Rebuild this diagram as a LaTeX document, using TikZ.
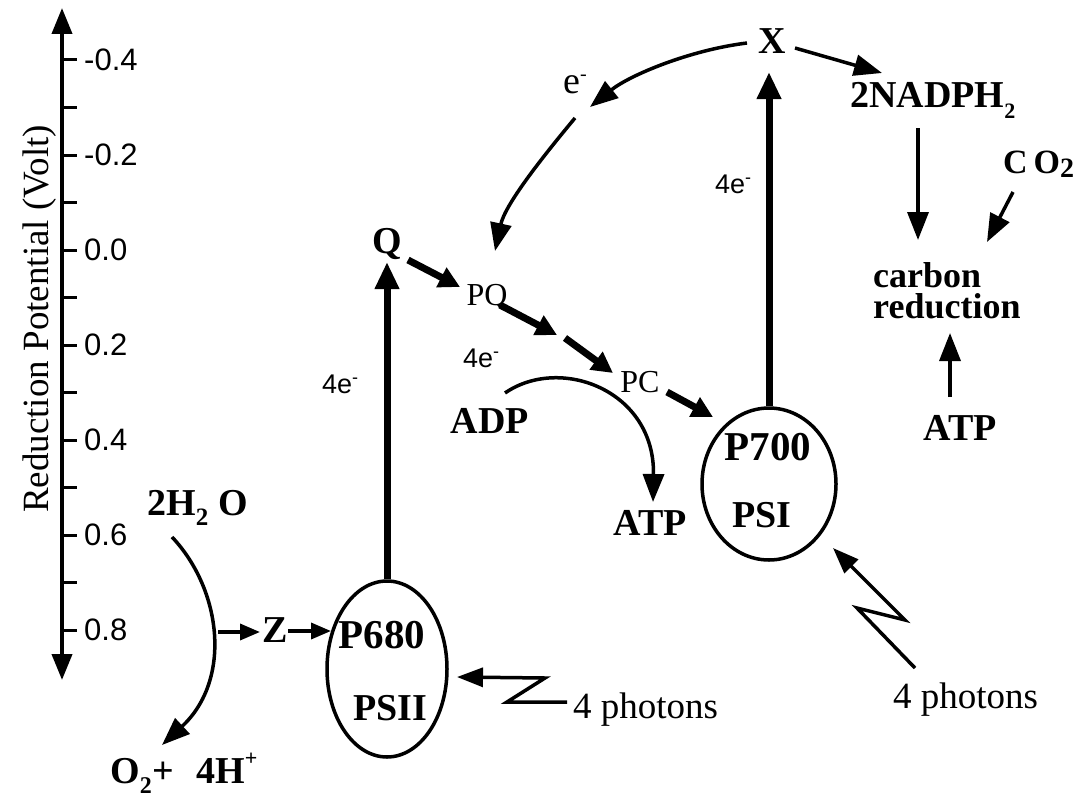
\documentclass[tikz,border=0pt]{standalone}
\usepackage{fontspec}
\setmainfont{Liberation Serif}
\newfontfamily\sansfam{Liberation Sans}
\usetikzlibrary{arrows.meta,shapes.geometric}

% lowered / raised small indices: #1 shift (pt), #2 size (pt), #3 text
\newcommand{\lowsub}[3]{\raisebox{-#1pt}{\fontsize{#2}{#2}\selectfont #3}}
\newcommand{\highsup}[3]{\raisebox{#1pt}{\fontsize{#2}{#2}\selectfont #3}}

\tikzset{
  bold/.style={font=\bfseries\fontsize{38}{40}\selectfont, inner sep=0pt, anchor=base},
  wide/.style={font=\bfseries\fontsize{41}{43}\selectfont},
  plain/.style={font=\fontsize{32}{34}\selectfont, inner sep=0pt, anchor=base},
  volt/.style={font=\sansfam\fontsize{31}{32}\selectfont, inner sep=0pt, anchor=west},
  elec/.style={font=\sansfam\fontsize{27}{28}\selectfont, inner sep=0pt, anchor=base west},
  photo/.style={font=\fontsize{37}{39}\selectfont, inner sep=0pt, anchor=base west},
  system/.style={ellipse, draw, line width=3.5pt, inner sep=0pt},
  flow/.style={line width=3.5pt, -{Triangle[length=28pt,width=21pt]}},
  trunk/.style={line width=7pt, -{Triangle[length=27pt,width=23pt]}},
  chain/.style={line width=7pt, -{Triangle[length=21pt,width=21pt]}},
  small/.style={line width=3.5pt, -{Triangle[length=20pt,width=16pt]}},
  light/.style={line width=3.5pt, -{Triangle[length=26pt,width=19pt]}},
}

\begin{document}
\begin{tikzpicture}[x=1pt,y=-1pt]
\useasboundingbox (0,0) rectangle (1081,800);

% reduction potential axis
\coordinate (axtop) at (62,8);
\coordinate (axbot) at (62,680);
\draw[line width=4pt, {Triangle[length=26pt,width=20pt]}-{Triangle[length=26pt,width=20pt]}] (axbot) -- (axtop);
\foreach \k in {0,...,12} \draw[line width=3pt] (62,{60+47.5*\k}) -- ++(15,0);
\foreach \v/\k in {-0.4/0,-0.2/2,0.0/4,0.2/6,0.4/8,0.6/10,0.8/12}
  \node[volt] (tick\k) at (84,{60+47.5*\k}) {\v};
\node[font=\fontsize{37}{39}\selectfont, rotate=90, inner sep=0pt] (axislabel) at (40,319) {Reduction Potential (Volt)};

% carriers and products
\node[bold] (X) at (772,53) {X};
\node[bold, anchor=base west] (nadph) at (850,107) {2NADPH\lowsub{11}{22}{2}};
\node[bold, font=\bfseries\fontsize{34}{36}\selectfont, anchor=base west] (co2) at (1003,173) {C\hspace{6pt}O\lowsub{4}{28}{2}};
% base of a two-line node is the baseline of its last line
\node[bold, font=\bfseries\fontsize{36}{31}\selectfont, align=left, anchor=base west] (carbon) at (873,318) {carbon\\reduction};
\node[bold] (atpR) at (960,440) {ATP};
\node[bold] (Q) at (387,253) {Q};
\node[plain] (PQ) at (487,305) {PQ};
\node[plain] (PC) at (640,392) {PC};
\node[bold] (ADP) at (490,433) {ADP};
\node[bold] (atpM) at (650,535) {ATP};

% photosystems
\node[system, minimum width=134pt, minimum height=152pt] (psi) at (769,484) {};
\node[bold, wide] (p700) at (768,460) {P700};
\node[bold] (psitext) at (762,527) {PSI};
\node[system, minimum width=120pt, minimum height=176pt] (psii) at (387,669) {};
\node[bold, wide] (p680) at (382,648) {P680};
\node[bold] (psiitext) at (390,720) {PSII};

\node[bold] (Z) at (275,642) {Z};
\node[bold, anchor=base west] (h2o) at (147,515) {2H\lowsub{10}{25}{2}\hspace{10pt}O};
\node[bold, anchor=base west] (o2) at (110,783) {O\lowsub{10}{24}{2}\hspace{1pt}+\hspace{22pt}4H\highsup{18}{22}{+}};
\node[photo] (photII) at (573,718) {4 photons};
\node[photo] (photI) at (893,708) {4 photons};

% electron labels
\node[font=\fontsize{38}{40}\selectfont, inner sep=0pt, anchor=base west] (elab) at (563,93) {e\highsup{13}{20}{-}};
\node[elec] (e4a) at (322,393) {4e\highsup{10}{18}{-}};
\node[elec] (e4b) at (463,367) {4e\highsup{10}{18}{-}};
\node[elec] (e4c) at (715,193) {4e\highsup{10}{18}{-}};

% electron transport
\draw[trunk] (psii.north) -- ([shift={(0,9)}]Q.base);
\draw[trunk] (psi.north) -- ([shift={(-3,19)}]X.base);
\draw[flow] ([shift={(23,-5)}]X.base) -- ([shift={(32,-34)}]nadph.base west);
\draw[flow] ([shift={(-25,-10)}]X.base) .. controls +(-57,7) and +(40,-32) .. ([shift={(27,14)}]elab.base west);
\draw[flow] ([shift={(12,25)}]elab.base west) .. controls +(-35,42) and +(10,-46) .. ([shift={(8,-54)}]PQ.base);
\draw[chain] ([shift={(21,7)}]Q.base) -- ([shift={(-27,-18)}]PQ.base);
\draw[chain] ([shift={(13,0)}]PQ.base) -- ([shift={(70,30)}]PQ.base);
\draw[chain] ([shift={(-75,-54)}]PC.base) -- ([shift={(-27,-19)}]PC.base);
\draw[chain] ([shift={(27,0)}]PC.base) -- ([shift={(-56,-67)}]psi.center);

% carbon reduction inputs
\draw[flow] ([shift={(68,21)}]nadph.base west) -- ([shift={(45,-78)}]carbon.base west);
\draw[flow] ([shift={(10,19)}]co2.base west) -- ([shift={(114,-76)}]carbon.base west);
\draw[flow] ([shift={(-10,-43)}]atpR.base) -- ([shift={(77,15)}]carbon.base west);

% photophosphorylation
\draw[flow] ([shift={(15,-40)}]ADP.base) .. controls +(55,-38) and +(2,-112) .. ([shift={(3,-33)}]atpM.base);

% water splitting
\draw[flow] ([shift={(25,22)}]h2o.base west) .. controls +(50,53) and +(70,-65) .. ([shift={(52,-38)}]o2.base west);
\coordinate (branch) at (218,632);
\draw[small] (branch) -- ([shift={(-15,-10)}]Z.base);
\draw[small] ([shift={(13,-11)}]Z.base) -- ([shift={(-56,-38)}]psii.center);

% light input
\draw[light] ([shift={(-6,-16)}]photII.base west) -- ++(-60,0) -- ++(38,-24) -- ([shift={(70,8)}]psii.center);
\draw[light] ([shift={(22,-40)}]photI.base west) -- ++(-58,-60) -- ++(48,12) -- ([shift={(64,64)}]psi.center);
\end{tikzpicture}
\end{document}
